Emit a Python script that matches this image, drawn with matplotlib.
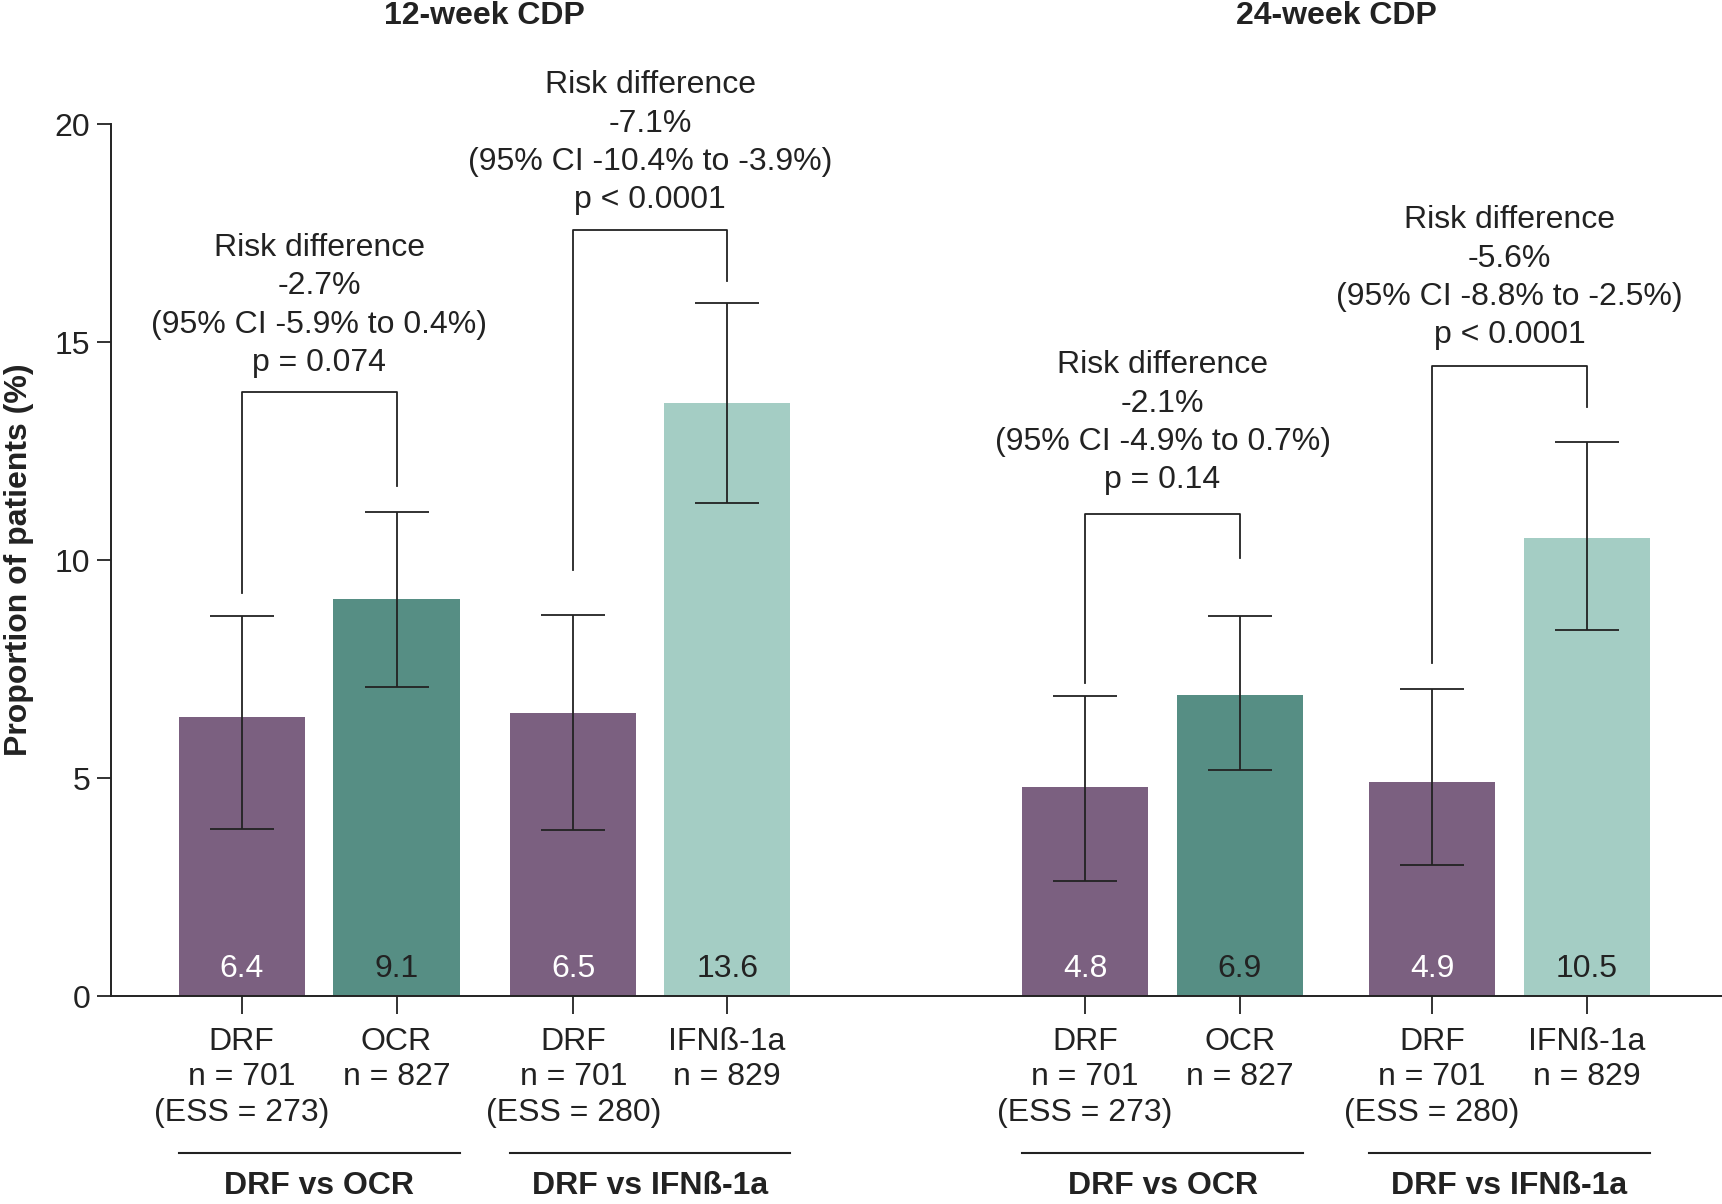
import numpy as np
import matplotlib
matplotlib.use('Agg')
import matplotlib.pyplot as plt

plt.rcParams['font.family'] = ['Liberation Sans', 'DejaVu Sans']

# bar values (%), with 95% CI bounds
values = [6.4, 9.1, 6.5, 13.6, 4.8, 6.9, 4.9, 10.5]
ci_low = [3.83, 7.08, 3.80, 11.31, 2.64, 5.19, 3.00, 8.39]
ci_high = [8.72, 11.11, 8.74, 15.89, 6.88, 8.72, 7.05, 12.70]
xpos = [0, 1.0, 2.142, 3.135, 5.447, 6.447, 7.688, 8.688]
tick_labels = ['DRF\nn = 701\n(ESS = 273)', 'OCR\nn = 827',
               'DRF\nn = 701\n(ESS = 280)', 'IFN\u00df-1a\nn = 829',
               'DRF\nn = 701\n(ESS = 273)', 'OCR\nn = 827',
               'DRF\nn = 701\n(ESS = 280)', 'IFN\u00df-1a\nn = 829']
group_labels = ['DRF vs OCR', 'DRF vs IFN\u00df-1a', 'DRF vs OCR', 'DRF vs IFN\u00df-1a']
panel_titles = ['12-week CDP', '24-week CDP']

# significance brackets: (left bar, right bar, left leg bottom, top, right leg bottom)
brackets = [(0, 1, 9.24, 13.85, 11.69),
            (2, 3, 9.77, 17.56, 16.40),
            (4, 5, 7.18, 11.06, 10.05),
            (6, 7, 7.63, 14.46, 13.50)]
bracket_text = ['Risk difference\n-2.7%\n(95% CI -5.9% to 0.4%)\np = 0.074',
                'Risk difference\n-7.1%\n(95% CI -10.4% to -3.9%)\np < 0.0001',
                'Risk difference\n-2.1%\n(95% CI -4.9% to 0.7%)\np = 0.14',
                'Risk difference\n-5.6%\n(95% CI -8.8% to -2.5%)\np < 0.0001']
bracket_text_y = [15.84, 19.57, 13.15, 16.47]

purple = '#7B6080'
teal = '#568E84'
light = '#A4CDC4'
colors = [purple, teal, purple, light, purple, teal, purple, light]
label_colors = ['white', '#222222', 'white', '#222222', 'white', '#222222', 'white', '#222222']

fs = 23
bw = 0.815

fig = plt.figure(figsize=(17.22, 12.04), dpi=100)
ax = fig.add_axes([111 / 1722, 1 - 996 / 1204, (1722 - 111) / 1722, (996 - 124) / 1204])

ax.bar(xpos, values, width=bw, color=colors, zorder=1)
yerr = [np.array(values) - np.array(ci_low), np.array(ci_high) - np.array(values)]
ax.errorbar(xpos, values, yerr=yerr, fmt='none', ecolor='#222222', elinewidth=1.3,
            capsize=23, capthick=1.3, zorder=2)

for x, v, c in zip(xpos, values, label_colors):
    ax.text(x, 0.63, f'{v}', ha='center', va='center', color=c, fontsize=fs)

for (i, j, lb, top, rb), txt, ty in zip(brackets, bracket_text, bracket_text_y):
    ax.plot([xpos[i], xpos[i], xpos[j], xpos[j]], [lb, top, top, rb],
            color='#222222', lw=1.3, clip_on=False)
    ax.text((xpos[i] + xpos[j]) / 2, ty, txt, ha='center', va='center',
            fontsize=fs, linespacing=1.36, color='#222222')

for k in range(4):
    a, b = xpos[2 * k], xpos[2 * k + 1]
    ax.plot([a - bw / 2, b + bw / 2], [-3.6, -3.6], color='#222222', lw=1.5, clip_on=False)
    ax.text((a + b) / 2, -4.36, group_labels[k], ha='center', va='center',
            fontsize=fs, fontweight='bold', color='#222222')

for k in range(2):
    ax.text((xpos[4 * k] + xpos[4 * k + 3]) / 2, 22.47, panel_titles[k], ha='center',
            va='center', fontsize=fs, fontweight='bold', color='#222222')

ax.set_xlim(-0.844, 9.56)
ax.set_ylim(0, 20)
ax.set_yticks([0, 5, 10, 15, 20])
ax.set_xticks(xpos)
ax.set_xticklabels(tick_labels, linespacing=1.24)
ax.tick_params(axis='x', length=13, width=1.3, pad=9, labelsize=fs, colors='#222222')
ax.tick_params(axis='y', length=10, width=1.3, pad=5, labelsize=fs, colors='#222222')
for s in ['top', 'right']:
    ax.spines[s].set_visible(False)
for s in ['left', 'bottom']:
    ax.spines[s].set_linewidth(1.4)
    ax.spines[s].set_color('#222222')

fig.text(19 / 1722, 1 - 560 / 1204, 'Proportion of patients (%)', rotation=90,
         ha='center', va='center', fontsize=fs, fontweight='bold', color='#222222')

fig.savefig('out.png', dpi=100)
